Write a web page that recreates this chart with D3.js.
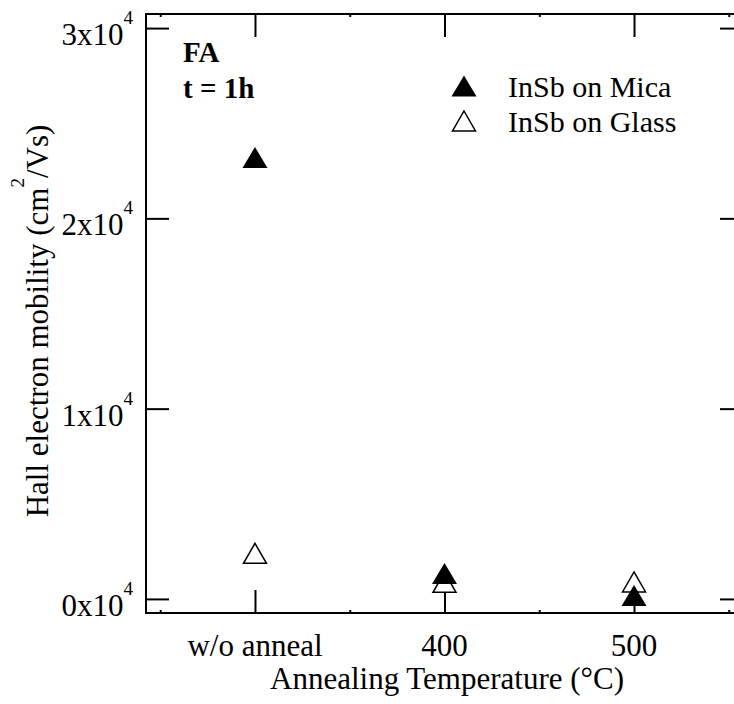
<!DOCTYPE html>
<html>
<head>
<meta charset="utf-8">
<script src="https://cdn.jsdelivr.net/npm/d3@7"></script>
<style>
body { margin: 0; background: #fff; }
</style>
</head>
<body>
<svg id="chart"></svg>
<script>
const WIDTH = 734;
const HEIGHT = 704;
const FONT = "'Liberation Serif', Tinos, 'Times New Roman', Times, 'Nimbus Roman', 'DejaVu Serif', serif";

// values
const categories = ['w/o anneal', '400', '500'];
const micaValues = [23200, 1340, 180];
const glassValues = [2400, 870, 890];
const yTicks = [0, 10000, 20000, 30000];
const seriesNames = ['InSb on Mica', 'InSb on Glass'];

// plot frame (right edge runs past the window)
const frame = { left: 146, right: 743, top: 14, bottom: 613 };

// triangle marker as a d3 symbol type, centred on its bounding box
function triangleType(w, h) {
    return {
        draw(ctx) {
            ctx.moveTo(0, -h / 2);
            ctx.lineTo(w / 2, h / 2);
            ctx.lineTo(-w / 2, h / 2);
            ctx.closePath();
        }
    };
}
const filledTri = d3.symbol(triangleType(25, 21))();
const openTri = d3.symbol(triangleType(23, 20))();

function draw() {
    let svg = d3.select('#chart')
        .attr('width', WIDTH)
        .attr('height', HEIGHT)
        .attr('font-family', FONT);

    let x = d3.scaleLinear()
        .domain([-0.575, categories.length - 1 + 0.575])
        .range([frame.left, frame.right]);
    let y = d3.scaleLinear()
        .domain([-740, 30740])
        .range([frame.bottom, frame.top]);

    let idx = d3.range(categories.length);
    let minor = idx.map(i => i - 0.5).concat([categories.length - 0.5]);

    // major ticks point inward on all four sides, minor ones are tiny
    let axes = [
        [d3.axisBottom(x).tickValues(idx).tickSizeInner(-23), `translate(0,${frame.bottom})`],
        [d3.axisTop(x).tickValues(idx).tickSizeInner(-23), `translate(0,${frame.top})`],
        [d3.axisLeft(y).tickValues(yTicks).tickSizeInner(-23), `translate(${frame.left},0)`],
        [d3.axisRight(y).tickValues(yTicks).tickSizeInner(-23), `translate(${frame.right},0)`],
        [d3.axisBottom(x).tickValues(minor).tickSizeInner(-3), `translate(0,${frame.bottom})`],
        [d3.axisTop(x).tickValues(minor).tickSizeInner(-3), `translate(0,${frame.top})`],
    ];
    for (const [axis, tr] of axes) {
        let g = svg.append('g')
            .attr('transform', tr)
            .call(axis.tickSizeOuter(0).tickFormat(''));
        g.select('.domain').remove();
        g.selectAll('line').attr('stroke', '#000').attr('stroke-width', 2);
    }

    // frame
    svg.append('rect')
        .attr('x', frame.left)
        .attr('y', frame.top)
        .attr('width', frame.right - frame.left)
        .attr('height', frame.bottom - frame.top)
        .attr('fill', 'none')
        .attr('stroke', '#000')
        .attr('stroke-width', 2);

    let text = (sel) => sel.attr('font-family', FONT).attr('fill', '#000');

    // x tick labels
    svg.selectAll('.xlabel')
        .data(categories)
        .enter().append('text')
        .attr('class', 'xlabel')
        .call(text)
        .attr('x', (d, i) => x(i))
        .attr('y', 656)
        .attr('text-anchor', 'middle')
        .attr('font-size', 31)
        .text(d => d);

    // y tick labels: Nx10^4
    let yl = svg.selectAll('.ylabel')
        .data(yTicks)
        .enter().append('text')
        .attr('class', 'ylabel')
        .call(text)
        .attr('x', frame.left - 13)
        .attr('y', d => y(d) + 17)
        .attr('text-anchor', 'end')
        .attr('font-size', 31);
    yl.append('tspan').text(d => `${d / 10000}x10`);
    yl.append('tspan')
        .attr('dy', -21)
        .attr('font-size', 19)
        .text('4');

    // axis titles
    svg.append('text')
        .call(text)
        .attr('x', 447)
        .attr('y', 689)
        .attr('text-anchor', 'middle')
        .attr('font-size', 31)
        .text('Annealing Temperature (°C)');

    let yt = svg.append('text')
        .call(text)
        .attr('transform', 'rotate(-90)')
        .attr('x', -321)
        .attr('y', 48)
        .attr('text-anchor', 'middle')
        .attr('font-size', 31);
    yt.append('tspan').text('Hall electron mobility (cm');
    yt.append('tspan').attr('dy', -24).attr('font-size', 19).text('2');
    yt.append('tspan').attr('dy', 24).text('/Vs)');

    // annotation
    svg.append('text')
        .call(text)
        .attr('x', 183).attr('y', 62)
        .attr('font-size', 29).attr('font-weight', 'bold')
        .text('FA');
    svg.append('text')
        .call(text)
        .attr('x', 183).attr('y', 98)
        .attr('font-size', 29).attr('font-weight', 'bold')
        .text('t = 1h');

    // data: glass first, mica drawn over it
    svg.selectAll('.glass')
        .data(glassValues)
        .enter().append('path')
        .attr('class', 'glass')
        .attr('d', openTri)
        .attr('transform', (d, i) => `translate(${x(i)},${y(d)})`)
        .attr('fill', '#fff')
        .attr('stroke', '#000')
        .attr('stroke-width', 1.5);

    svg.selectAll('.mica')
        .data(micaValues)
        .enter().append('path')
        .attr('class', 'mica')
        .attr('d', filledTri)
        .attr('transform', (d, i) => `translate(${x(i)},${y(d)})`)
        .attr('fill', '#000');

    // legend
    let legend = svg.append('g').attr('transform', 'translate(464,86)');
    let items = legend.selectAll('.item')
        .data(seriesNames)
        .enter().append('g')
        .attr('class', 'item')
        .attr('transform', (d, i) => `translate(0,${i * 35})`);
    items.append('path')
        .attr('d', (d, i) => i === 0 ? filledTri : openTri)
        .attr('fill', (d, i) => i === 0 ? '#000' : '#fff')
        .attr('stroke', (d, i) => i === 0 ? 'none' : '#000')
        .attr('stroke-width', 1.5);
    items.append('text')
        .call(text)
        .attr('x', 44)
        .attr('y', 11)
        .attr('font-size', 30)
        .text(d => d);
}

draw();
</script>
</body>
</html>
